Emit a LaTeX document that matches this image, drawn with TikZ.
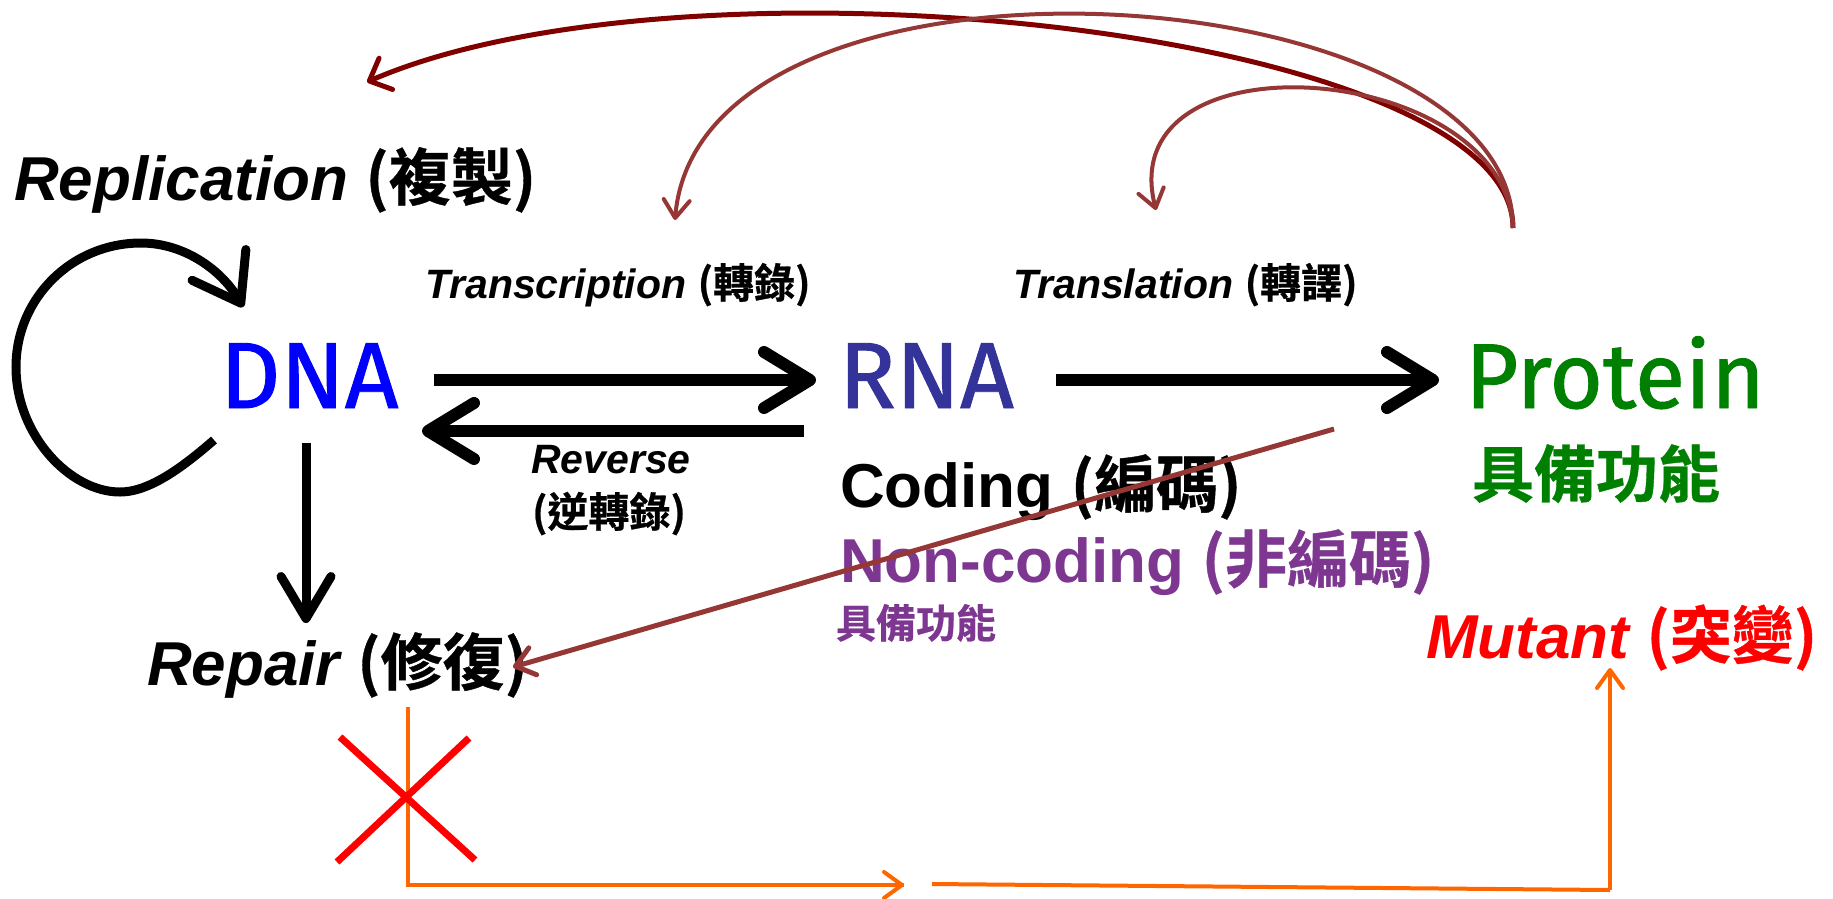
\documentclass[tikz,border=0pt]{standalone}
\usepackage{fontspec}
\setmainfont{Liberation Sans}
\newfontfamily\cjkf{Noto Sans CJK TC}[BoldFont={Noto Sans CJK TC Bold},BoldFeatures={FakeBold=0.6}]
\newfontfamily\comicf{Fira Sans}[FakeBold=1.0]
\usetikzlibrary{arrows.meta}
\definecolor{dnablue}{RGB}{0,0,255}
\definecolor{rnablue}{RGB}{51,51,153}
\definecolor{protgreen}{RGB}{0,128,0}
\definecolor{ncpurple}{RGB}{125,55,145}
\definecolor{darkarc}{RGB}{128,0,0}
\definecolor{brownred}{RGB}{149,55,53}
\definecolor{orng}{RGB}{255,102,0}
\newcommand\fsz[1]{\fontsize{#1}{#1}\selectfont}
\newcommand\zh[1]{{\cjkf\bfseries\upshape #1}}
\begin{document}
\begin{tikzpicture}[x=1pt,y=-1pt,
  txt/.style={inner sep=0pt, outer sep=0pt, anchor=base west},
  ctxt/.style={inner sep=0pt, outer sep=0pt, anchor=base},
  bigarrow/.style={line width=12pt, -{Straight Barb[length=46pt,width=56pt,round]}},
  downarrow/.style={line width=9pt, -{Straight Barb[length=42pt,width=50pt,round]}},
  looparrow/.style={line width=9pt, -{Straight Barb[length=44pt,width=62pt,round]}},
  darkcurve/.style={darkarc, line width=5pt, -{Straight Barb[length=18pt,width=34pt,round]}},
  browncurve/.style={brownred, line width=4pt, -{Straight Barb[length=18pt,width=26pt,round]}},
  brownline/.style={brownred, line width=5pt, -{Straight Barb[length=18pt,width=28pt,round]}},
  orangeline/.style={orng, line width=4pt},
  orangearrow/.style={orng, line width=4pt, -{Straight Barb[length=18pt,width=26pt,round]}},
  redx/.style={red, line width=7pt}
]
\fill[white] (0,0) rectangle (1833,898);
\useasboundingbox (0,0) rectangle (1833,898);

% texts
\node[txt] (repl) at (14,200) {\fsz{62}\bfseries\itshape Replication \zh{(複製)}};
\node[txt] (trc) at (425,298) {\fsz{41}\bfseries\itshape Transcription \zh{(轉錄)}};
\node[txt] (trl) at (1013,298) {\fsz{41}\bfseries\itshape Translation \zh{(轉譯)}};
\node[ctxt] (rev) at (611,473) {\fsz{41}\bfseries\itshape Reverse};
\node[ctxt] (rev2) at (609,527) {\fsz{41}\zh{(逆轉錄)}};
\node[txt] (dna) at (220,408) {\fsz{94}\comicf\color{dnablue}DNA};
\node[txt] (rna) at (839,408) {\fsz{94}\comicf\color{rnablue}RNA};
\node[txt] (prot) at (1465,408) {\fsz{92}\comicf\color{protgreen}Protein};
\node[txt] (cod) at (840,507) {\fsz{62}\bfseries Coding \zh{(編碼)}};
\node[txt] (ncod) at (840,582) {\fsz{62}\bfseries\color{ncpurple}Non-coding \zh{(非編碼)}};
\node[txt] (func1) at (836,638) {\fsz{40}\color{ncpurple}\zh{具備功能}};
\node[txt] (func2) at (1472,497) {\fsz{62}\color{protgreen}\zh{具備功能}};
\node[txt] (rep) at (147,685) {\fsz{62}\bfseries\itshape Repair \zh{(修復)}};
\node[txt] (mut) at (1426,658) {\fsz{62}\bfseries\itshape\color{red}Mutant \zh{(突變)}};

% coordinates
\coordinate (dr1) at (434,380);  \coordinate (rn1) at (816,380);
\coordinate (rn2) at (804,431);  \coordinate (dr2) at (422,431);
\coordinate (rn3) at (1056,380); \coordinate (pr3) at (1439,380);
\coordinate (dn4) at (306,443);  \coordinate (rp4) at (306,623);
\coordinate (lp0) at (214,440);  \coordinate (lp1) at (243,307);
\coordinate (ptop) at (1513,228);
\coordinate (rtip) at (367,82);
\coordinate (ttip) at (675,220);
\coordinate (ltip) at (1156,210);
\coordinate (bs) at (1334,429);  \coordinate (be) at (513,667);
\coordinate (o1) at (408,707); \coordinate (o2) at (408,885); \coordinate (o3) at (904,885);
\coordinate (o4) at (932,884); \coordinate (o5) at (1610,890); \coordinate (o6) at (1610,668);

% black arrows
\draw[bigarrow] (dr1) -- (rn1);
\draw[bigarrow] (rn2) -- (dr2);
\draw[bigarrow] (rn3) -- (pr3);
\draw[downarrow] (dn4) -- (rp4);
\draw[looparrow] (lp0) .. controls (184,466) and (150,492) .. (120,492)
   .. controls (70,492) and (16,435) .. (16,367)
   .. controls (16,298) and (72,243) .. (141,243)
   .. controls (186,243) and (223,272) .. (lp1);

% feedback curves
\draw[darkcurve] (ptop) .. controls (1513,30) and (690,-58) .. (rtip);
\draw[browncurve] (ptop) .. controls (1513,-30) and (700,-80) .. (ttip);
\draw[browncurve] (ptop) .. controls (1505,60) and (1110,30) .. (ltip);
\draw[brownline] (bs) -- (be);

% orange path
\draw[orangeline] (o1) -- (o2) -- (o3);
\draw[orangearrow] (o2) -- (o3);
\draw[orangeline] (o4) -- (o5);
\draw[orangearrow] (o5) -- (o6);

% red cross
\draw[redx] (340,737) -- (475,860);
\draw[redx] (469,738) -- (337,862);
\end{tikzpicture}
\end{document}
